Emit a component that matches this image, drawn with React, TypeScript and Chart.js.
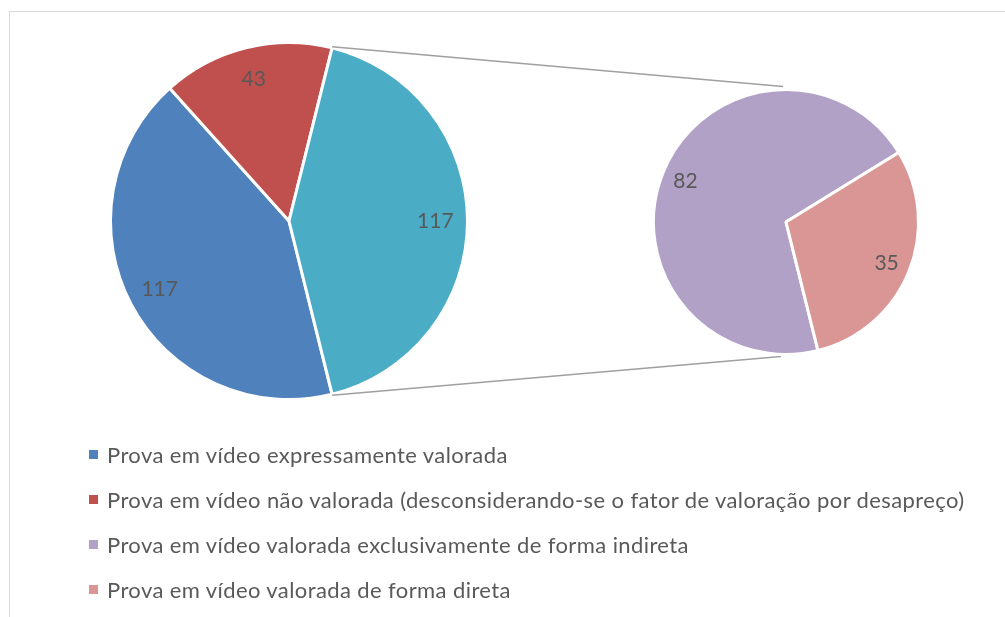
import React, { useEffect, useRef } from "react";
import { Chart, registerables } from "chart.js";

Chart.register(...registerables);

const primaryLabels = [
  "Prova em vídeo expressamente valorada",
  "Prova em vídeo não valorada (desconsiderando-se o fator de valoração por desapreço)",
  "Outros",
];
const primaryValues = [117, 43, 117];
const primaryColors = ["#4F81BD", "#C0504D", "#4BACC6"];

const secondaryLabels = [
  "Prova em vídeo valorada exclusivamente de forma indireta",
  "Prova em vídeo valorada de forma direta",
];
const secondaryValues = [82, 35];
const secondaryColors = ["#B2A1C7", "#DA9694"];

const legendLabels = [primaryLabels[0], primaryLabels[1], ...secondaryLabels];
const legendColors = [primaryColors[0], primaryColors[1], ...secondaryColors];

const W = 1005;
const H = 617;
const TEXT = "#595959";
const FONT = "Lato";

const sum = (a: number[]) => a.reduce((s, v) => s + v, 0);
// "Other" slice centred on the right side (90° from top, clockwise)
const otherAngle = (primaryValues[2] / sum(primaryValues)) * 360;
const rotation = 90 + otherAngle / 2;

const labelPlugin = {
  id: "sliceLabels",
  afterDatasetsDraw(chart: any) {
    const ctx = chart.ctx;
    const meta = chart.getDatasetMeta(0);
    const values = chart.data.datasets[0].data;
    ctx.save();
    ctx.font = `21px ${FONT}`;
    ctx.fillStyle = TEXT;
    ctx.textAlign = "center";
    ctx.textBaseline = "middle";
    meta.data.forEach((arc: any, i: number) => {
      const p = arc.getProps(["x", "y", "startAngle", "endAngle", "outerRadius"], true);
      const mid = (p.startAngle + p.endAngle) / 2;
      const r = p.outerRadius * 0.82;
      ctx.fillText(String(values[i]), p.x + Math.cos(mid) * r, p.y + Math.sin(mid) * r);
    });
    ctx.restore();
  },
};

export default function App() {
  const leftRef = useRef<HTMLCanvasElement>(null);
  const rightRef = useRef<HTMLCanvasElement>(null);

  useEffect(() => {
    const left = new Chart(leftRef.current!, {
      type: "pie",
      data: {
        labels: primaryLabels,
        datasets: [
          {
            data: primaryValues,
            backgroundColor: primaryColors,
            borderColor: "#ffffff",
            borderWidth: 3,
          },
        ],
      },
      options: {
        responsive: false,
        animation: false,
        events: [],
        rotation,
        layout: { padding: { left: 109, top: 41, right: W - 469, bottom: H - 401 } },
        plugins: { legend: { display: false }, tooltip: { enabled: false } },
      },
      plugins: [labelPlugin],
    });

    const connector = {
      id: "connector",
      beforeDatasetsDraw(chart: any) {
        const lm = left.getDatasetMeta(0);
        const other = lm.data[2] as any;
        const o = other.getProps(["x", "y", "startAngle", "endAngle", "outerRadius"], true);
        const rArc = chart.getDatasetMeta(0).data[0] as any;
        const s = rArc.getProps(["x", "y", "outerRadius"], true);
        const ctx = chart.ctx;
        ctx.save();
        ctx.strokeStyle = "#a0a0a0";
        ctx.lineWidth = 1.5;
        ctx.beginPath();
        ctx.moveTo(o.x + Math.cos(o.startAngle) * o.outerRadius, o.y + Math.sin(o.startAngle) * o.outerRadius - 1);
        ctx.lineTo(s.x - 3, s.y - s.outerRadius - 3);
        ctx.moveTo(o.x + Math.cos(o.endAngle) * o.outerRadius, o.y + Math.sin(o.endAngle) * o.outerRadius + 1);
        ctx.lineTo(s.x - 5, s.y + s.outerRadius + 2);
        ctx.stroke();
        ctx.restore();
      },
    };

    const right = new Chart(rightRef.current!, {
      type: "pie",
      data: {
        labels: secondaryLabels,
        datasets: [
          {
            data: secondaryValues,
            backgroundColor: secondaryColors,
            borderColor: "#ffffff",
            borderWidth: 3,
          },
        ],
      },
      options: {
        responsive: false,
        animation: false,
        events: [],
        rotation,
        layout: { padding: { left: 652, top: 88, right: W - 920, bottom: H - 356 } },
        plugins: { legend: { display: false }, tooltip: { enabled: false } },
      },
      plugins: [connector, labelPlugin],
    });

    return () => {
      right.destroy();
      left.destroy();
    };
  }, []);

  return (
    <div
      style={{
        position: "absolute",
        left: 0,
        top: 0,
        width: W,
        height: H,
        background: "#fff",
        overflow: "hidden",
      }}
    >
      <div
        style={{
          position: "absolute",
          left: 9,
          top: 11,
          width: W + 20,
          height: H + 20,
          border: "1.5px solid #d9d9d9",
          boxSizing: "border-box",
        }}
      />
      <canvas ref={leftRef} width={W} height={H} style={{ position: "absolute", left: 0, top: 0 }} />
      <canvas ref={rightRef} width={W} height={H} style={{ position: "absolute", left: 0, top: 0 }} />
      {legendLabels.map((label, i) => (
        <div
          key={label}
          style={{
            position: "absolute",
            left: 89,
            top: 454 + i * 45 - 15,
            height: 30,
            display: "flex",
            alignItems: "center",
            whiteSpace: "nowrap",
            fontFamily: FONT,
            fontSize: 22,
            letterSpacing: 0.4,
            color: TEXT,
          }}
        >
          <span
            style={{
              display: "inline-block",
              width: 9,
              height: 9,
              background: legendColors[i],
              marginRight: 9,
            }}
          />
          <span>{label}</span>
        </div>
      ))}
    </div>
  );
}
